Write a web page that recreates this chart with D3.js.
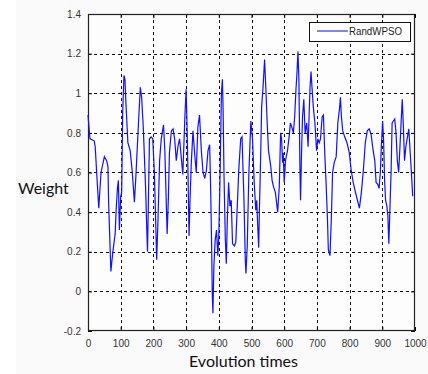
<!DOCTYPE html>
<html>
<head>
<meta charset="utf-8">
<script src="https://cdn.jsdelivr.net/npm/d3@7"></script>
<style>
  html, body { margin: 0; padding: 0; background: #fff; }
  svg { display: block; }
</style>
</head>
<body>
<svg id="chart" width="428" height="374"></svg>
<script>
// Evolution step at each recorded point
const times = [
  0, 6, 19, 22, 30, 33, 37, 40, 50, 57, 61, 63, 67, 70, 76, 83, 86, 90, 93, 96,
  100, 103, 106, 110, 113, 116, 122, 129, 135, 142, 147, 155, 160, 164, 169, 176, 180, 182, 188, 193,
  198, 203, 210, 214, 219, 224, 231, 235, 238, 242, 246, 249, 255,
  260, 265, 270, 275, 280, 285, 290, 296, 300, 303, 306, 309, 312, 316, 321, 326, 331, 336, 341,
  347, 352, 357, 362, 367, 372, 375, 378, 380, 382, 385, 389, 393, 397, 400, 404, 408, 411, 413, 416,
  420, 423, 426, 430, 434, 438, 442, 448, 452, 457, 461, 467, 471, 477, 481, 483, 487, 492,
  498, 503, 508, 513, 516, 519, 522, 524, 528, 531, 536, 540, 544, 548, 552, 559, 563, 567, 573, 580,
  585, 589, 592, 595, 597, 600, 604, 610, 615, 619, 623, 628, 632, 636, 639, 642, 645, 648, 650, 653,
  656, 660, 664, 669, 673, 676, 679, 682, 685, 689, 694, 699, 703, 707, 711, 716, 720, 724, 728, 732,
  735, 740, 744, 748, 753, 759,
  764, 769, 772, 775, 779, 785, 792, 799, 805, 811, 818, 824, 830, 836, 842, 848, 854, 860, 866, 872,
  877, 881, 886, 890, 894, 897, 901, 904, 907, 910, 914, 917, 920, 923, 927, 930, 934, 938, 942, 946,
  950, 954, 958, 961, 964, 968, 972, 976, 981, 985, 989, 993
];

// Inertia weight of RandWPSO at each step
const weights = [
  0.89, 0.77, 0.76, 0.73, 0.50, 0.42, 0.53, 0.60, 0.68, 0.66, 0.63, 0.45, 0.25, 0.10, 0.20, 0.29, 0.41, 0.52, 0.56, 0.31,
  0.48, 0.50, 0.90, 1.09, 1.07, 0.95, 0.75, 0.71, 0.61, 0.45, 0.60, 0.87, 1.03, 0.98, 0.83, 0.53, 0.30, 0.20, 0.77, 0.78,
  0.77, 0.60, 0.16, 0.36, 0.66, 0.77, 0.84, 0.71, 0.53, 0.29, 0.48, 0.70, 0.81,
  0.82, 0.77, 0.66, 0.73, 0.77, 0.68, 0.59, 0.87, 1.02, 0.83, 0.58, 0.28, 0.46, 0.65, 0.81, 0.70, 0.60, 0.83, 0.89,
  0.70, 0.60, 0.57, 0.61, 0.71, 0.74, 0.53, 0.24, -0.01, -0.11, 0.13, 0.26, 0.31, 0.18, 0.28, 0.60, 1.00, 1.07, 0.93, 0.58,
  0.26, 0.14, 0.36, 0.55, 0.43, 0.46, 0.24, 0.23, 0.25, 0.45, 0.61, 0.77, 0.78, 0.46, 0.16, 0.09, 0.23, 0.60,
  0.86, 0.77, 0.56, 0.41, 0.46, 0.33, 0.22, 0.40, 0.68, 0.93, 1.05, 1.17, 1.02, 0.85, 0.71, 0.63, 0.56, 0.53, 0.50, 0.40,
  0.53, 0.80, 0.77, 0.65, 0.70, 0.55, 0.66, 0.71, 0.78, 0.85, 0.83, 0.80, 0.88, 1.02, 1.10, 1.21, 1.07, 0.63, 0.46, 0.70,
  0.88, 0.97, 0.80, 0.85, 0.73, 0.88, 1.03, 1.11, 1.03, 0.93, 0.85, 0.71, 0.77, 0.75, 0.77, 0.88, 0.89, 0.70, 0.55, 0.38,
  0.21, 0.18, 0.36, 0.60, 0.65, 0.68,
  0.85, 0.92, 0.98, 0.88, 0.81, 0.78, 0.75, 0.70, 0.61, 0.55, 0.50, 0.46, 0.42, 0.50, 0.61, 0.75, 0.81, 0.82, 0.79, 0.71,
  0.66, 0.55, 0.54, 0.52, 0.60, 0.73, 0.86, 0.76, 0.56, 0.46, 0.43, 0.38, 0.24, 0.40, 0.61, 0.85, 0.86, 0.87, 0.80, 0.66,
  0.60, 0.73, 0.87, 0.97, 0.85, 0.66, 0.73, 0.77, 0.82, 0.71, 0.60, 0.48
];

const xTicks = [0, 100, 200, 300, 400, 500, 600, 700, 800, 900, 1000];
const yTicks = [-0.2, 0, 0.2, 0.4, 0.6, 0.8, 1, 1.2, 1.4];
const seriesName = "RandWPSO";
const xTitle = "Evolution times";
const yTitle = "Weight";

const svg = d3.select("#chart");
const W = 428, H = 374;
const plot = { left: 88, right: 415, top: 14, bottom: 331 };

// page background: white strip on the left, light grey elsewhere
svg.append("rect").attr("x", 0).attr("y", 0).attr("width", W).attr("height", H).attr("fill", "#ffffff");
svg.append("rect").attr("x", 16).attr("y", 0).attr("width", W - 16).attr("height", H).attr("fill", "#fafafa");

const x = d3.scaleLinear().domain([0, 1000]).range([plot.left, plot.right]);
const y = d3.scaleLinear().domain([-0.2, 1.4]).range([plot.bottom, plot.top]);

// plot area
svg.append("rect")
  .attr("x", plot.left).attr("y", plot.top)
  .attr("width", plot.right - plot.left).attr("height", plot.bottom - plot.top)
  .attr("fill", "#fdfdfd");

// dashed grid
const grid = svg.append("g").attr("stroke", "#111").attr("stroke-width", 1).attr("stroke-dasharray", "3,3");
grid.selectAll("line.v").data(xTicks.slice(1, -1)).join("line")
  .attr("x1", d => Math.round(x(d)) + 0.5).attr("x2", d => Math.round(x(d)) + 0.5)
  .attr("y1", plot.top).attr("y2", plot.bottom);
grid.selectAll("line.h").data(yTicks.slice(1, -1)).join("line")
  .attr("y1", d => Math.round(y(d)) + 0.5).attr("y2", d => Math.round(y(d)) + 0.5)
  .attr("x1", plot.left).attr("x2", plot.right);

// axes with inward ticks
const fmt = d => (Math.round(d * 10) / 10).toString();
const tickFont = "'Liberation Sans', Arial, sans-serif";

const xAxisB = svg.append("g").attr("transform", `translate(0,${plot.bottom})`)
  .call(d3.axisBottom(x).tickValues(xTicks).tickSize(-4).tickPadding(9).tickFormat(d3.format("d")));
const xAxisT = svg.append("g").attr("transform", `translate(0,${plot.top})`)
  .call(d3.axisTop(x).tickValues(xTicks).tickSize(-4).tickFormat(""));
const yAxisL = svg.append("g").attr("transform", `translate(${plot.left},0)`)
  .call(d3.axisLeft(y).tickValues(yTicks).tickSize(-4).tickPadding(7).tickFormat(fmt));
const yAxisR = svg.append("g").attr("transform", `translate(${plot.right},0)`)
  .call(d3.axisRight(y).tickValues(yTicks).tickSize(-4).tickFormat(""));

[xAxisB, xAxisT, yAxisL, yAxisR].forEach(a => {
  a.select(".domain").remove();
  a.selectAll(".tick line").attr("stroke", "#000").attr("stroke-width", 1);
  a.selectAll("text").attr("fill", "#333").style("font-family", tickFont).style("font-size", "10px");
});

// frame
svg.append("rect")
  .attr("x", plot.left + 0.5).attr("y", plot.top + 0.5)
  .attr("width", plot.right - plot.left - 1).attr("height", plot.bottom - plot.top - 1)
  .attr("fill", "none").attr("stroke", "#222").attr("stroke-width", 1.2);

// weight series
const line = d3.line().x((d, i) => x(times[i])).y(d => y(d));
svg.append("path")
  .datum(weights)
  .attr("d", line)
  .attr("fill", "none")
  .attr("stroke", "#1010ff")
  .attr("stroke-width", 1.2)
  .attr("stroke-linejoin", "miter");

// legend
const lg = svg.append("g");
lg.append("rect").attr("x", 309.5).attr("y", 22.5).attr("width", 101).attr("height", 19)
  .attr("fill", "#fff").attr("stroke", "#111").attr("stroke-width", 1);
lg.append("line").attr("x1", 317).attr("x2", 348).attr("y1", 31).attr("y2", 31)
  .attr("stroke", "#3030ff").attr("stroke-width", 1.2);
lg.append("text").attr("x", 349).attr("y", 35).text(seriesName)
  .attr("fill", "#222").style("font-family", tickFont).style("font-size", "10px")
  .attr("textLength", 53).attr("lengthAdjust", "spacingAndGlyphs");

// axis titles
const titleFont = "Lato, 'Open Sans', sans-serif";
svg.append("text").attr("x", (plot.left + plot.right) / 2 - 8).attr("y", 367)
  .attr("text-anchor", "middle").text(xTitle)
  .attr("fill", "#111").style("font-family", titleFont).style("font-size", "16px");
svg.append("text").attr("x", 18).attr("y", 194).text(yTitle)
  .attr("fill", "#111").style("font-family", titleFont).style("font-size", "16px");
</script>
</body>
</html>
